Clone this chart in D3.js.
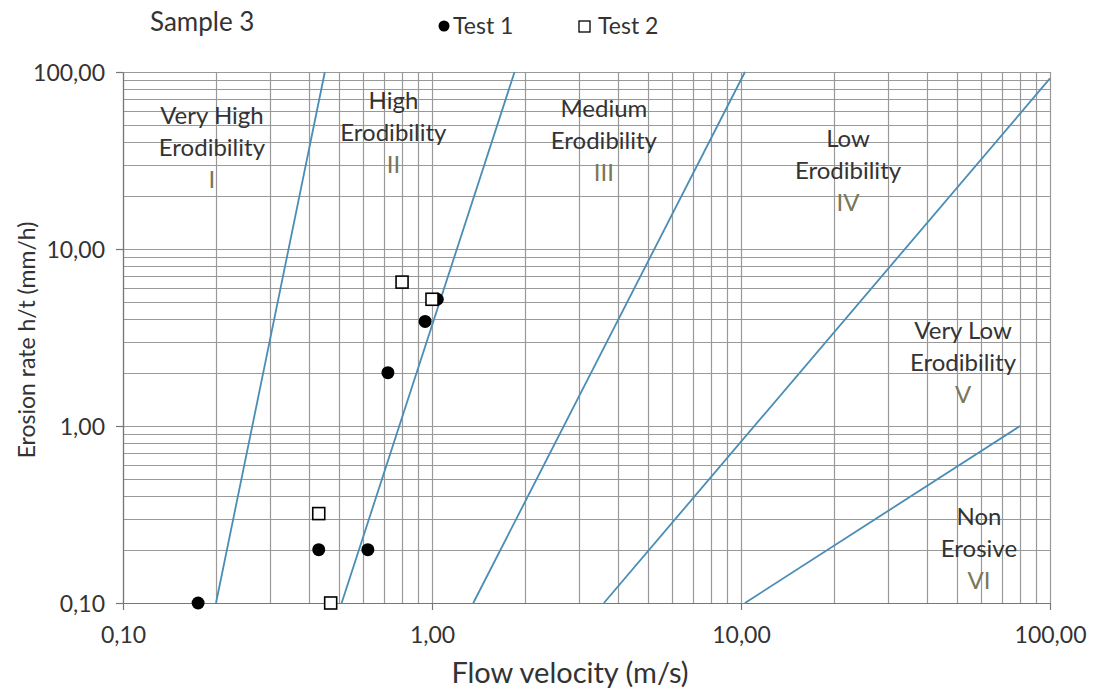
<!DOCTYPE html>
<html>
<head>
<meta charset="utf-8">
<script src="https://cdn.jsdelivr.net/npm/d3@7"></script>
<style>
  body { margin: 0; background: #fff; }
  text { font-family: Lato, "Open Sans", sans-serif; fill: #333; }
</style>
</head>
<body>
<div id="chart"></div>
<script>
// test results (flow velocity m/s, erosion rate mm/h)
const test1 = [
  { v: 0.175, rate: 0.1 },
  { v: 0.43, rate: 0.2 },
  { v: 0.62, rate: 0.2 },
  { v: 0.72, rate: 2.0 },
  { v: 0.95, rate: 3.9 },
  { v: 1.04, rate: 5.2 },
];
const test2 = [
  { v: 0.43, rate: 0.32 },
  { v: 0.47, rate: 0.1 },
  { v: 0.80, rate: 6.5 },
  { v: 1.0, rate: 5.2 },
];

// category boundary lines [[v, rate], [v, rate]]
const boundaries = [
  [[0.2, 0.1], [0.45, 100]],
  [[0.51, 0.1], [1.85, 100]],
  [[1.36, 0.1], [10.3, 100]],
  [[3.6, 0.1], [100, 92]],
  [[10.3, 0.1], [80, 1.0]],
];

// zone labels: lines of text and anchor point (v, rate) of the first line
const zones = [
  { lines: ["Very High", "Erodibility", "I"], v: 0.194, rate: 51 },
  { lines: ["High", "Erodibility", "II"], v: 0.75, rate: 62 },
  { lines: ["Medium", "Erodibility", "III"], v: 3.6, rate: 56 },
  { lines: ["Low", "Erodibility", "IV"], v: 22.2, rate: 37.7 },
  { lines: ["Very Low", "Erodibility", "V"], v: 52.3, rate: 3.1 },
  { lines: ["Non", "Erosive", "VI"], v: 58.9, rate: 0.276 },
];

const xTicks = [0.1, 1, 10, 100];
const yTicks = [0.1, 1, 10, 100];

const width = 1104;
const height = 693;
const margin = { top: 72, right: 54, bottom: 90, left: 123 };

const svg = d3.select("#chart")
  .append("svg")
  .attr("width", width)
  .attr("height", height);

const x = d3.scaleLog().domain([0.1, 100]).range([margin.left, width - margin.right]);
const y = d3.scaleLog().domain([0.1, 100]).range([height - margin.bottom, margin.top]);

const fmt = (d) => d.toFixed(2).replace(".", ",");

// minor + major grid values
const gridVals = [];
for (const dec of [0.1, 1, 10]) {
  for (let k = 1; k <= 9; k++) gridVals.push(dec * k);
}
gridVals.push(100);

const grid = svg.append("g").attr("class", "grid");
grid.selectAll("line.vx")
  .data(gridVals)
  .join("line")
  .attr("class", "vx")
  .attr("x1", (d) => Math.round(x(d)) + 0.5)
  .attr("x2", (d) => Math.round(x(d)) + 0.5)
  .attr("y1", y(0.1))
  .attr("y2", y(100))
  .attr("stroke", "#999")
  .attr("stroke-width", 1.2);
grid.selectAll("line.hy")
  .data(gridVals)
  .join("line")
  .attr("class", "hy")
  .attr("x1", x(0.1))
  .attr("x2", x(100))
  .attr("y1", (d) => Math.round(y(d)) + 0.5)
  .attr("y2", (d) => Math.round(y(d)) + 0.5)
  .attr("stroke", "#999")
  .attr("stroke-width", 1.2);

// Axes
const xAxis = svg.append("g")
  .attr("transform", `translate(0, ${y(0.1)})`)
  .call(d3.axisBottom(x).tickValues(xTicks).tickFormat(fmt).tickSize(7).tickSizeOuter(0));
const yAxis = svg.append("g")
  .attr("transform", `translate(${x(0.1)}, 0)`)
  .call(d3.axisLeft(y).tickValues(yTicks).tickFormat(fmt).tickSize(7).tickSizeOuter(0));

[xAxis, yAxis].forEach((a) => {
  a.select(".domain").attr("stroke", "#777").attr("stroke-width", 1.2);
  a.selectAll(".tick line").attr("stroke", "#777").attr("stroke-width", 1.2);
  a.selectAll(".tick text").attr("font-size", 23).attr("fill", "#333")
    .style("font-family", "Lato, sans-serif");
});
xAxis.selectAll(".tick text").attr("y", 24).attr("dy", "0.71em");
yAxis.selectAll(".tick text").attr("x", -18).attr("dy", "0.35em");

// Boundary lines
const line = d3.line().x((d) => x(d[0])).y((d) => y(d[1]));
svg.append("g")
  .selectAll("path")
  .data(boundaries)
  .join("path")
  .attr("d", line)
  .attr("fill", "none")
  .attr("stroke", "#4a8db5")
  .attr("stroke-width", 1.8);

// Zone labels
const zoneG = svg.append("g")
  .selectAll("text")
  .data(zones)
  .join("text")
  .attr("text-anchor", "middle")
  .attr("font-size", 24)
  .attr("transform", (d) => `translate(${x(d.v)}, ${y(d.rate)})`);
zoneG.selectAll("tspan")
  .data((d) => d.lines.map((t, i) => ({ t, i })))
  .join("tspan")
  .attr("x", 0)
  .attr("y", (d) => d.i * 32)
  .attr("fill", (d) => (d.i === 2 ? "#7a7658" : "#333"))
  .text((d) => d.t);

// Points
svg.append("g")
  .selectAll("circle")
  .data(test1)
  .join("circle")
  .attr("cx", (d) => x(d.v))
  .attr("cy", (d) => y(d.rate))
  .attr("r", 6.5)
  .attr("fill", "#000");

svg.append("g")
  .selectAll("rect")
  .data(test2)
  .join("rect")
  .attr("x", (d) => x(d.v) - 6)
  .attr("y", (d) => y(d.rate) - 6)
  .attr("width", 12)
  .attr("height", 12)
  .attr("fill", "#fff")
  .attr("stroke", "#000")
  .attr("stroke-width", 1.6);

// Title and legend
svg.append("text")
  .attr("x", 150)
  .attr("y", 31)
  .attr("font-size", 26)
  .text("Sample 3");

const legend = svg.append("g").attr("transform", "translate(0, 26)");
legend.append("circle").attr("cx", 444).attr("cy", 0).attr("r", 5.5).attr("fill", "#000");
legend.append("text").attr("x", 453).attr("y", 8).attr("font-size", 23).text("Test 1");
legend.append("rect").attr("x", 579).attr("y", -5).attr("width", 11).attr("height", 11)
  .attr("fill", "#fff").attr("stroke", "#000").attr("stroke-width", 1.3);
legend.append("text").attr("x", 598).attr("y", 8).attr("font-size", 23).text("Test 2");

// Axis titles
svg.append("text")
  .attr("x", 570)
  .attr("y", 683)
  .attr("text-anchor", "middle")
  .attr("font-size", 29)
  .text("Flow velocity (m/s)");

svg.append("text")
  .attr("transform", "translate(35, 340) rotate(-90)")
  .attr("text-anchor", "middle")
  .attr("font-size", 23)
  .text("Erosion rate h/t (mm/h)");
</script>
</body>
</html>
